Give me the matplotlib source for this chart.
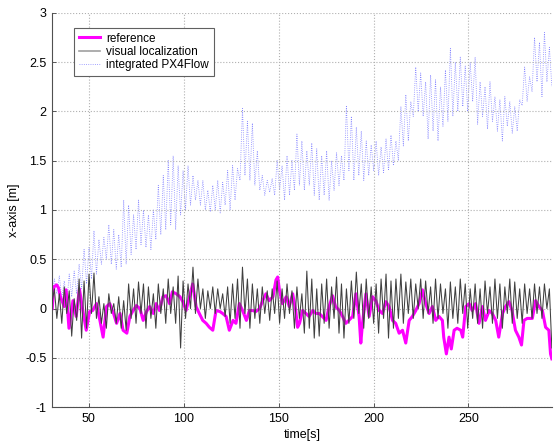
import matplotlib
matplotlib.use("Agg")
import matplotlib.pyplot as plt
import numpy as np

# reference trajectory (time [s], x [m])
ref_t = [30.7, 31.5, 33, 34, 35, 37, 38, 39.5, 41.6, 43.3, 45, 46.8, 48.6, 50.4,
         52, 54, 55.8, 57.5, 59.3, 61, 63, 64.6, 66.4, 68, 70, 71.6, 73.3, 75,
         76.9, 78.6, 80.4, 82, 84, 85.4, 87.2, 89, 90.7, 92.5, 94, 96, 98, 99.5,
         101.2, 103, 104.7, 106.5, 108.2, 110, 111.8, 113.5, 115.3, 117, 119,
         120.5, 122.3, 124, 126, 127.5, 129.3, 131, 133, 134.6, 136.3, 138, 140,
         141.6, 143.3, 145, 147, 148.6, 149.5, 150.4, 152, 154, 155.6, 157.4,
         159, 160, 161, 162.6, 164.4, 166, 168, 169.6, 171.4, 173, 175, 176.6,
         178.4, 180, 182, 183.7, 185.4, 187, 189, 190.7, 192.4, 193.3, 194.2,
         196, 197.7, 199.5, 201.2, 203, 204.7, 206.5, 208.2, 210, 211.7, 213.5,
         215.3, 217, 218.8, 220.5, 222.3, 224, 225.8, 227.5, 229.3, 231, 232.8,
         234.5, 236.3, 237, 238.4, 239.8, 241, 242.5, 244, 246, 247, 248.6,
         250.4, 252, 253.8, 255.6, 257.4, 259, 261, 262.6, 264.4, 266, 268,
         269.6, 271.4, 273, 274.8, 276.6, 278, 279.3, 281, 283.7, 285.4, 287.2,
         289, 290.7, 292.4, 293.3, 294]
ref_x = [0.0, 0.22, 0.24, 0.21, 0.12, 0.02, 0.19, -0.2, 0.08, -0.08, 0.2, -0.02,
         -0.22, -0.03, -0.02, 0.05, -0.12, -0.29, 0.02, 0.05, -0.05, -0.15,
         -0.05, -0.22, -0.25, -0.08, -0.02, 0.03, 0.0, -0.12, -0.03, 0.02,
         -0.05, 0.05, -0.02, 0.12, 0.13, 0.05, 0.17, 0.15, 0.12, 0.07, -0.02,
         0.12, 0.25, 0.02, -0.05, -0.12, -0.15, -0.19, -0.22, -0.02, -0.03,
         -0.05, -0.08, -0.22, -0.12, -0.15, 0.05, -0.02, -0.12, -0.02, -0.02,
         -0.03, 0.0, 0.08, 0.15, 0.08, 0.12, 0.29, 0.32, 0.19, 0.05, 0.12, 0.02,
         0.15, -0.02, -0.19, -0.15, -0.02, -0.05, -0.08, -0.02, -0.05, -0.05,
         -0.08, -0.12, 0.02, 0.13, 0.02, -0.02, -0.08, -0.15, -0.12, -0.08, 0.15,
         -0.08, -0.35, -0.15, 0.15, -0.08, 0.12, 0.08, -0.02, -0.05, 0.07, 0.02,
         -0.12, -0.15, -0.25, -0.22, -0.35, -0.12, -0.08, -0.02, 0.05, 0.19,
         0.05, -0.05, 0.02, -0.12, -0.08, -0.12, -0.29, -0.46, -0.29, -0.41,
         -0.22, -0.2, -0.22, -0.29, 0.02, 0.05, -0.02, 0.05, -0.15, 0.02, -0.12,
         -0.02, -0.05, -0.12, -0.29, -0.05, 0.02, 0.07, -0.02, -0.22, -0.29,
         -0.37, -0.12, -0.1, -0.1, 0.08, 0.02, -0.02, -0.19, -0.22, -0.46, -0.51]

# visual localization estimate, one value every ~1.3 s
vis_x = [0.05, 0.2, -0.1, 0.15, -0.15, 0.22, -0.05, 0.18, -0.28, 0.1,
         -0.12, 0.3, -0.3, 0.28, -0.2, 0.35, -0.05, 0.36, -0.1, 0.12,
         -0.15, 0.05, -0.2, 0.15, -0.05, 0.05, -0.15, 0.12, -0.2, 0.08,
         -0.22, 0.25, -0.1, 0.2, -0.15, 0.27, -0.05, 0.25, -0.2, 0.22,
         -0.1, 0.15, -0.2, 0.25, -0.05, 0.2, -0.15, 0.3, -0.05, 0.22,
         -0.15, 0.33, -0.4, 0.28, -0.1, 0.25, 0.0, 0.42, -0.05, 0.3,
         0.0, 0.2, -0.1, 0.18, 0.0, 0.22, -0.05, 0.2, 0.0, 0.15,
         -0.08, 0.22, -0.15, 0.25, -0.1, 0.3, -0.2, 0.42, -0.05, 0.3,
         -0.2, 0.25, -0.1, 0.2, -0.15, 0.22, -0.05, 0.18, -0.12, 0.2,
         -0.05, 0.28, -0.15, 0.2, -0.1, 0.25, -0.05, 0.18, -0.2, 0.22,
         -0.1, 0.15, -0.25, 0.38, -0.2, 0.3, -0.3, 0.2, -0.28, 0.25,
         -0.15, 0.3, -0.2, 0.22, -0.1, 0.32, -0.25, 0.25, -0.3, 0.2,
         -0.15, 0.28, -0.1, 0.37, -0.05, 0.25, -0.2, 0.3, -0.1, 0.22,
         -0.15, 0.25, -0.25, 0.3, -0.1, 0.35, -0.3, 0.28, -0.2, 0.3,
         -0.1, 0.35, -0.15, 0.27, -0.05, 0.3, -0.1, 0.25, 0.0, 0.3,
         -0.1, 0.28, -0.05, 0.22, -0.15, 0.3, -0.1, 0.25, -0.05, 0.2,
         -0.2, 0.27, -0.1, 0.22, -0.15, 0.3, -0.05, 0.25, -0.2, 0.2,
         -0.1, 0.25, -0.15, 0.2, -0.2, 0.28, -0.05, 0.22, -0.15, 0.3,
         -0.1, 0.25, -0.2, 0.22, -0.05, 0.3, -0.15, 0.27, -0.1, 0.2,
         -0.15, 0.25, -0.05, 0.2, -0.1, 0.25, -0.05, 0.22, -0.1, 0.25,
         0.0, 0.2, -0.4]

# integrated PX4Flow, same ~1.3 s grid
flow_x = [0.12, 0.3, 0.15, 0.33, 0.1, 0.28, 0.05, 0.35, 0.12, 0.38,
          0.15, 0.45, 0.2, 0.6, 0.25, 0.62, 0.3, 0.79, 0.35, 0.7,
          0.45, 0.72, 0.5, 0.85, 0.45, 0.8, 0.4, 0.75, 0.42, 1.1,
          0.45, 1.05, 0.55, 0.95, 0.6, 1.1, 0.65, 1.0, 0.62, 0.95,
          0.6, 1.0, 0.7, 1.25, 0.75, 1.35, 0.8, 1.5, 0.85, 1.55,
          0.8, 1.45, 0.95, 1.4, 1.0, 1.45, 1.05, 1.35, 1.1, 1.3,
          1.05, 1.3, 1.0, 1.2, 0.98, 1.25, 1.0, 1.3, 0.97, 1.28,
          1.05, 1.4, 1.0, 1.45, 1.1, 1.42, 1.3, 2.03, 1.35, 1.9,
          1.3, 1.88, 1.25, 1.6, 1.2, 1.35, 1.15, 1.3, 1.18, 1.32,
          1.15, 1.5, 1.2, 1.45, 1.1, 1.55, 1.15, 1.5, 1.2, 1.77,
          1.25, 1.7, 1.2, 1.6, 1.25, 1.68, 1.15, 1.62, 1.1, 1.55,
          1.15, 1.6, 1.1, 1.5, 1.2, 1.58, 1.25, 1.55, 1.3, 2.06,
          1.4, 1.95, 1.3, 1.84, 1.35, 1.8, 1.3, 1.7, 1.35, 1.66,
          1.4, 1.7, 1.35, 1.64, 1.38, 1.72, 1.4, 1.76, 1.45, 1.7,
          1.5, 2.05, 1.65, 2.17, 1.7, 2.1, 1.95, 2.45, 2.0, 2.39,
          1.95, 2.3, 1.72, 2.37, 1.8, 2.32, 1.7, 2.25, 1.85, 2.42,
          1.9, 2.64, 1.95, 2.5, 2.0, 2.55, 2.05, 2.46, 2.0, 2.5,
          2.1, 2.55, 1.87, 2.3, 1.95, 2.25, 1.82, 2.3, 1.9, 2.15,
          1.8, 2.12, 1.7, 2.15, 1.85, 2.1, 1.78, 2.05, 1.8, 2.12,
          2.06, 2.45, 2.1, 2.35, 2.2, 2.75, 2.3, 2.7, 2.15, 2.8,
          2.3, 2.65, 2.25]

t_start, t_end = 30.5, 294.0
vis_t = np.linspace(t_start, t_end, len(vis_x))
flow_t = np.linspace(t_start, t_end, len(flow_x))

plt.rcParams["font.family"] = ["Liberation Sans", "DejaVu Sans"]
plt.rcParams["font.size"] = 9

fig = plt.figure(figsize=(5.58, 4.43), dpi=100)
ax = fig.add_axes([0.093, 0.081, 0.896, 0.890])

ax.plot(ref_t, ref_x, color="#ff00ff", lw=2.2, label="reference", zorder=2)
ax.plot(vis_t, vis_x, color="#404040", lw=0.75, label="visual localization", zorder=3)
ax.plot(flow_t, flow_x, color="#8585ff", lw=0.6, ls=":", label="integrated PX4Flow", zorder=1)

ax.set_xlim(t_start, t_end)
ax.set_ylim(-1, 3)
ax.set_xticks([50, 100, 150, 200, 250])
ax.set_yticks([-1, -0.5, 0, 0.5, 1, 1.5, 2, 2.5, 3])
ax.set_yticklabels(["-1", "-0.5", "0", "0.5", "1", "1.5", "2", "2.5", "3"])
ax.grid(True, color="#b0b0b0", ls=":", lw=0.8)
ax.tick_params(direction="in", length=3, width=0.6, colors="#404040",
               labelcolor="black", pad=4)
for side in ("top", "right"):
    ax.spines[side].set_visible(False)
for side in ("left", "bottom"):
    ax.spines[side].set_color("#505050")
    ax.spines[side].set_linewidth(0.8)

ax.set_xlabel("time[s]", labelpad=3)
ax.set_ylabel("x-axis [m]", labelpad=4)

leg = ax.legend(loc="upper left", bbox_to_anchor=(0.044, 0.962), borderaxespad=0,
                fancybox=False, framealpha=1, edgecolor="#606060",
                handlelength=1.8, handletextpad=0.55, labelspacing=0.12,
                borderpad=0.4, fontsize=8.5)
leg.get_frame().set_linewidth(0.8)
leg.legend_handles[1].set_color("#a0a0a0")
leg.legend_handles[1].set_linewidth(1.2)

fig.savefig("out.png", dpi=100)
